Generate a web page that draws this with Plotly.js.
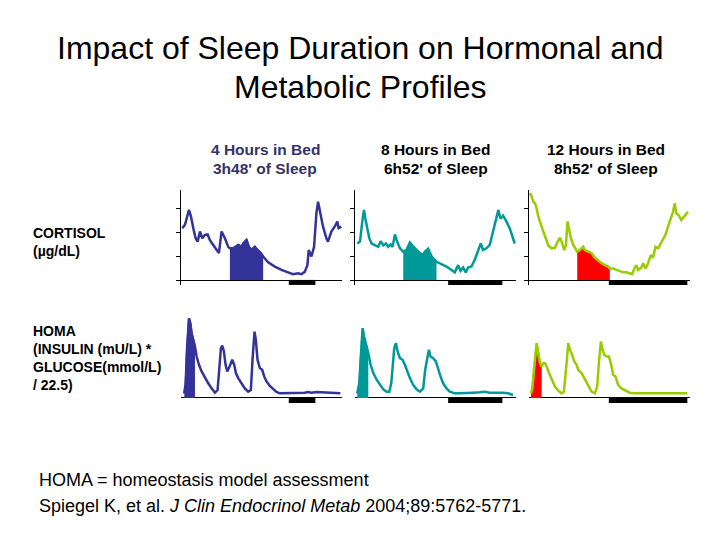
<!DOCTYPE html>
<html>
<head>
<meta charset="utf-8">
<script src="https://cdn.plot.ly/plotly-3.0.1.min.js"></script>
<style>html,body{margin:0;padding:0;background:#fff;}#chart{width:720px;height:540px;}</style>
</head>
<body>
<div id="chart"></div>
<script>
// ---------- DATA ----------
const conditions = ['4 Hours in Bed', '8 Hours in Bed', '12 Hours in Bed'];
const sleepLabels = ["3h48' of Sleep", "6h52' of Sleep", "8h52' of Sleep"];
const rowLabelsCortisol = ['CORTISOL', '(\u00b5g/dL)'];
const rowLabelsHoma = ['HOMA', '(INSULIN (mU/L) *', 'GLUCOSE(mmol/L)', '/ 22.5)'];
const footnote1 = 'HOMA = homeostasis model assessment';
const footnote2 = 'Spiegel K, et al. <i>J Clin Endocrinol Metab</i> 2004;89:5762-5771.';

// time in hours from start of recording
const cort4X = [0.2,0.6,1.2,1.5,1.85,2.2,2.5,2.85,3.2,3.6,4.0,4.35,4.85,5.35,5.7,6.1,6.6,7.1,7.35,7.85,8.6,9.1,9.35,9.85,10.2,10.6,11.1,11.5,12.0,12.35,13.1,14.1,15.1,16.1,16.85,17.6,18.1,18.6,19.0,19.2,19.6,20.0,20.35,20.6,20.95,21.35,21.85,22.1,22.6,23.1,23.5,23.7,24.1];
const cort4Y = [10.8,11.5,14.6,13.2,10.8,8.7,8.0,10.1,8.7,9.4,9.5,8.3,7.3,6.25,5.6,10.1,8.7,6.9,6.6,6.6,7.3,6.9,7.6,8.3,6.9,6.25,6.9,6.25,5.6,4.9,3.7,2.8,2.1,1.6,1.2,1.4,1.2,1.7,3.1,6.25,4.9,6.9,13.9,16.3,13.5,11.1,8.7,8.0,10.1,11.1,12.2,10.8,11.1];

const cort8X = [0.35,0.75,1.15,1.35,1.55,1.85,2.15,2.5,3.0,3.5,3.85,4.25,4.65,5.0,5.35,5.65,6.0,6.25,6.75,7.25,7.75,8.25,8.75,9.25,9.75,10.25,10.5,11.0,11.5,12.25,13.0,13.75,14.5,15.0,15.5,15.85,16.25,16.65,17.0,17.5,18.0,18.5,18.9,19.25,19.75,20.25,20.75,21.25,21.55,21.85,22.25,22.75,23.25,23.75,24.0];
const cort8Y = [7.6,8.0,12.8,14.6,12.8,10.8,8.7,7.6,7.2,6.9,8.1,7.2,7.6,6.9,7.4,6.9,9.5,8.3,6.6,5.9,6.25,7.8,6.9,6.25,5.6,5.2,5.9,6.5,4.9,3.8,3.3,2.8,2.1,1.6,3.1,1.9,2.6,1.6,2.6,2.8,4.2,5.9,7.6,6.25,6.6,7.3,10.1,13.2,14.6,12.8,13.4,12.2,10.8,8.7,7.6];

const cort12X = [0.15,0.4,0.65,0.9,1.15,1.4,1.8,2.15,2.5,2.9,3.4,3.9,4.3,4.65,4.9,5.3,5.55,5.8,6.05,6.3,6.65,6.9,7.25,7.65,8.15,8.4,8.9,9.4,9.9,10.4,10.9,11.4,11.9,12.15,12.65,13.15,13.65,14.15,14.65,15.15,15.5,15.9,16.15,16.4,16.9,17.15,17.5,17.9,18.3,18.65,19.0,19.4,19.8,20.15,20.5,20.9,21.3,21.65,21.9,22.15,22.5,22.9,23.3,23.65,23.9];
const cort12Y = [18.1,17.4,16.3,16.0,14.9,13.2,11.5,10.1,8.7,7.2,6.6,6.7,8.0,8.8,8.0,6.25,7.3,12.2,10.4,8.7,7.3,6.6,5.9,6.25,6.9,6.25,5.9,5.6,4.65,4.0,3.5,3.1,2.8,2.4,2.4,2.1,1.9,1.6,1.6,1.4,1.2,2.6,3.1,2.1,2.6,3.5,2.4,3.5,5.2,4.65,6.9,6.6,7.6,8.3,9.4,11.1,12.8,14.2,16.0,13.9,13.5,12.5,13.2,13.9,14.2];

const homa4X = [0.5,0.7,0.9,1.1,1.2,1.4,1.6,1.85,2.1,2.35,2.7,3.1,3.6,4.1,4.6,5.1,5.5,5.75,6.0,6.2,6.45,6.7,6.95,7.2,7.5,7.7,8.0,8.25,8.6,9.1,9.6,10.1,10.5,10.75,10.9,11.05,11.25,11.5,11.85,12.2,12.5,12.85,13.35,13.85,14.35,14.85,15.6,16.35,17.1,17.85,18.6,19.1,19.6,20.35,21.1,21.85,22.6,23.35,23.95];
const homa4Y = [0.56,1.77,5.78,8.59,9.6,9.0,7.8,7.0,6.2,5.0,4.0,3.2,2.4,1.77,1.16,0.64,0.96,4.2,6.0,6.3,5.6,4.0,3.2,3.6,4.2,4.6,4.0,3.0,2.4,1.77,1.16,0.76,0.96,4.6,7.0,8.0,7.0,4.6,3.6,3.4,2.6,2.0,1.45,1.04,0.72,0.56,0.56,0.56,0.6,0.6,0.64,0.72,0.64,0.72,0.68,0.64,0.64,0.6,0.56];

const homa8X = [0.35,0.65,0.85,1.05,1.15,1.35,1.65,2.0,2.35,2.75,3.25,3.75,4.25,4.75,5.15,5.45,5.65,5.9,6.15,6.4,6.75,7.15,7.5,7.85,8.25,8.75,9.25,9.75,10.25,10.55,10.85,11.1,11.35,11.75,12.15,12.5,12.85,13.25,13.75,14.25,15.0,15.75,16.75,17.75,18.75,19.5,20.25,21.25,22.25,23.0,23.75];
const homa8Y = [0.56,1.77,4.6,7.2,8.4,7.4,6.6,5.4,4.0,3.0,2.2,1.57,1.04,0.76,0.76,1.77,4.2,6.0,6.6,5.6,4.8,4.6,4.0,3.2,2.4,1.57,1.04,0.76,1.16,3.4,4.8,5.8,5.0,4.8,4.4,3.4,2.6,1.77,1.16,0.76,0.56,0.56,0.56,0.64,0.68,0.76,0.64,0.68,0.64,0.56,0.36];

const homa12X = [0.3,0.5,0.75,1.0,1.15,1.4,1.65,1.9,2.15,2.4,2.65,3.0,3.4,3.9,4.4,4.9,5.25,5.4,5.65,5.9,6.15,6.4,6.8,7.15,7.4,7.9,8.4,8.9,9.4,9.9,10.25,10.5,10.8,11.0,11.3,11.65,12.0,12.3,12.65,13.0,13.4,13.9,14.4,15.15,15.9,16.9,17.9,18.9,19.9,20.9,21.9,22.9,23.8];
const homa12Y = [0.56,1.16,3.4,5.4,6.6,5.4,4.2,3.8,4.2,4.2,3.8,3.0,2.2,1.37,0.88,0.56,0.76,1.77,4.2,6.6,5.8,5.4,4.4,4.0,3.4,3.0,2.2,1.37,0.76,0.56,1.37,4.2,6.8,6.0,5.2,5.0,5.0,4.2,2.8,2.6,1.57,1.16,0.96,0.64,0.56,0.56,0.56,0.6,0.56,0.64,0.56,0.56,0.56];

// sleep (bedtime) periods, hours
const sleepStart = [16.2, 14.0, 12.0];
const sleepEnd   = [20.2, 22.15, 23.8];
// shaded windows, hours
const cortisolWindow = [7.2, 12.4];
const homaWindow = [0.3, 2.12];

// ---------- STYLE ----------
const lineColors = ['#333399', '#009999', '#99cc00'];
const fillColors = ['#333399', '#009999', '#ff0000'];
const fillLines  = ['#333399', '#009999', '#99cc00'];
const headerColors = ['#333366', '#000000', '#000000'];
const FONT = 'Liberation Sans, Arial, sans-serif';

const cortX = [cort4X, cort8X, cort12X], cortY = [cort4Y, cort8Y, cort12Y];
const homaX = [homa4X, homa8X, homa12X], homaY = [homa4Y, homa8Y, homa12Y];

function windowed(xs, ys, w) {
  const ox = [], oy = [];
  xs.forEach((x, i) => { if (x >= w[0] && x <= w[1]) { ox.push(x); oy.push(ys[i]); } });
  return [ox, oy];
}

const traces = [];
function addPanel(xs, ys, win, c, axisIdx, barY) {
  const xa = axisIdx === 1 ? 'x' : 'x' + axisIdx;
  const ya = axisIdx === 1 ? 'y' : 'y' + axisIdx;
  const [fx, fy] = windowed(xs, ys, win);
  traces.push({x: fx, y: fy, xaxis: xa, yaxis: ya, mode: 'lines', fill: 'tozeroy',
    fillcolor: fillColors[c], line: {color: fillLines[c], width: 2}, hoverinfo: 'skip'});
  traces.push({x: xs, y: ys, xaxis: xa, yaxis: ya, mode: 'lines',
    line: {color: lineColors[c], width: 2.5}, hoverinfo: 'skip'});
  traces.push({x: [sleepStart[c], sleepEnd[c]], y: [barY, barY], xaxis: xa, yaxis: ya, mode: 'lines',
    line: {color: '#000000', width: 5}, hoverinfo: 'skip'});
}
for (let c = 0; c < 3; c++) {
  addPanel(cortX[c], cortY[c], cortisolWindow, c, c + 1, -0.5);
  addPanel(homaX[c], homaY[c], homaWindow, c, c + 4, -0.3);
}

const colDomains = [[181/720, 342/720], [355/720, 516/720], [529/720, 690/720]];
const rowDomains = [[(540-285)/540, (540-190)/540], [(540-403.8)/540, (540-315)/540]];

const layout = {
  width: 720, height: 540,
  margin: {l: 0, r: 0, t: 0, b: 0},
  paper_bgcolor: '#ffffff', plot_bgcolor: 'rgba(0,0,0,0)',
  showlegend: false,
  font: {family: FONT, color: '#000'},
  annotations: []
};
for (let r = 0; r < 2; r++) {
  for (let c = 0; c < 3; c++) {
    const k = r * 3 + c + 1;
    const xk = k === 1 ? 'xaxis' : 'xaxis' + k;
    const yk = k === 1 ? 'yaxis' : 'yaxis' + k;
    layout[xk] = {domain: colDomains[c], range: [0, 24.2], showgrid: false, zeroline: false,
      showline: false, showticklabels: false, ticks: '', anchor: k === 1 ? 'y' : 'y' + k, fixedrange: true};
    if (r === 0) {
      layout[yk] = {domain: rowDomains[0], range: [-1.04, 18.75], showgrid: false,
        zeroline: true, zerolinecolor: '#000', zerolinewidth: 1,
        showline: true, linecolor: '#000', linewidth: 1.5,
        ticks: 'outside', ticklen: 4, tickcolor: '#000', tickvals: [0, 5, 10, 15],
        showticklabels: false, anchor: k === 1 ? 'x' : 'x' + k, fixedrange: true};
    } else {
      layout[yk] = {domain: rowDomains[1], range: [-0.7, 10], showgrid: false,
        zeroline: true, zerolinecolor: '#000', zerolinewidth: 1,
        showline: false, ticks: '', showticklabels: false,
        anchor: 'x' + k, fixedrange: true};
    }
  }
}

function ann(text, xpx, ypx, size, opts) {
  layout.annotations.push(Object.assign({
    text: text, xref: 'paper', yref: 'paper', x: xpx / 720, y: (540 - ypx) / 540,
    xanchor: 'center', yanchor: 'middle', showarrow: false,
    font: {size: size, color: '#000', family: FONT}
  }, opts || {}));
}
ann('Impact of Sleep Duration on Hormonal and', 360, 48, 32);
ann('Metabolic Profiles', 360, 87, 32);
const headerX = [265, 436, 606];
for (let c = 0; c < 3; c++) {
  ann('<b>' + conditions[c] + '</b>', headerX[c], 149, 15.5, {font: {size: 15.5, color: headerColors[c], family: FONT}});
  ann('<b>' + sleepLabels[c] + '</b>', headerX[c], 168, 15.5, {font: {size: 15.5, color: headerColors[c], family: FONT}});
}
rowLabelsCortisol.forEach((t, i) => ann('<b>' + t + '</b>', 31, 233 + 18 * i, 14, {xanchor: 'left'}));
rowLabelsHoma.forEach((t, i) => ann('<b>' + t + '</b>', 31, 331 + 18 * i, 14, {xanchor: 'left'}));
ann(footnote1, 37, 480, 18, {xanchor: 'left'});
ann(footnote2, 37, 506, 18, {xanchor: 'left'});

Plotly.newPlot('chart', traces, layout, {staticPlot: true, displayModeBar: false});
</script>
</body>
</html>
